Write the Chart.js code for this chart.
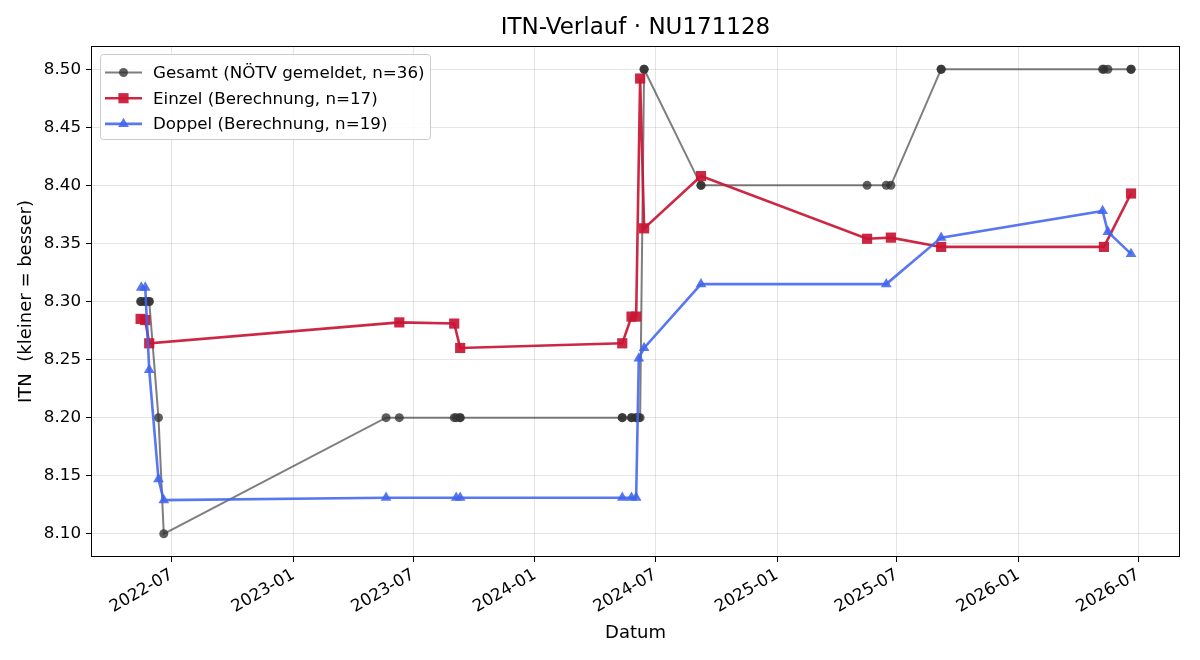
<!DOCTYPE html>
<html>
<head>
<meta charset="utf-8">
<script src="https://cdn.jsdelivr.net/npm/chart.js"></script>
<style>
  html, body { margin: 0; padding: 0; background: #fff; }
  canvas { display: block; }
</style>
</head>
<body>
<canvas id="c" width="1200" height="660"></canvas>
<script>
// ---- data ----
const gesamtDates = [
  '2022-05-15','2022-05-16','2022-05-22','2022-05-22','2022-05-28','2022-05-28',
  '2022-06-11','2022-06-19','2023-05-21','2023-06-10','2023-09-01','2023-09-04',
  '2023-09-10','2023-09-10','2024-05-12','2024-05-12','2024-05-26','2024-05-26',
  '2024-06-02','2024-06-02','2024-06-06','2024-06-08','2024-06-14','2024-06-14',
  '2024-09-08','2024-09-08','2025-05-17','2025-06-15','2025-06-22','2025-09-06',
  '2025-09-06','2026-05-08','2026-05-10','2026-05-16','2026-06-20','2026-06-20'
];
const gesamtValues = [
  8.30, 8.30, 8.30, 8.30, 8.30, 8.30,
  8.20, 8.10, 8.20, 8.20, 8.20, 8.20,
  8.20, 8.20, 8.20, 8.20, 8.20, 8.20,
  8.20, 8.20, 8.20, 8.20, 8.50, 8.50,
  8.40, 8.40, 8.40, 8.40, 8.40, 8.50,
  8.50, 8.50, 8.50, 8.50, 8.50, 8.50
];

const einzelDates = [
  '2022-05-15','2022-05-22','2022-05-28','2023-06-10','2023-09-01','2023-09-10',
  '2024-05-12','2024-05-26','2024-06-02','2024-06-08','2024-06-14','2024-09-08',
  '2025-05-17','2025-06-22','2025-09-06','2026-05-10','2026-06-20'
];
const einzelValues = [
  8.285, 8.284, 8.264, 8.282, 8.281, 8.260,
  8.264, 8.287, 8.287, 8.492, 8.363, 8.408,
  8.354, 8.355, 8.347, 8.347, 8.393
];

const doppelDates = [
  '2022-05-16','2022-05-22','2022-05-28','2022-06-11','2022-06-19','2023-05-21',
  '2023-09-04','2023-09-10','2024-05-12','2024-05-26','2024-06-02','2024-06-06',
  '2024-06-14','2024-09-08','2025-06-15','2025-09-06','2026-05-08','2026-05-16',
  '2026-06-20'
];
const doppelValues = [
  8.312, 8.312, 8.241, 8.147, 8.129, 8.131,
  8.131, 8.131, 8.131, 8.131, 8.131, 8.251,
  8.260, 8.315, 8.315, 8.355, 8.378, 8.360,
  8.341
];

const xTickLabels = ['2022-07','2023-01','2023-07','2024-01','2024-07','2025-01','2025-07','2026-01','2026-07'];
const yTickValues = [8.10, 8.15, 8.20, 8.25, 8.30, 8.35, 8.40, 8.45, 8.50];

const seriesLabels = [
  'Gesamt (NÖTV gemeldet, n=36)',
  'Einzel (Berechnung, n=17)',
  'Doppel (Berechnung, n=19)'
];

// ---- helpers ----
const toMs = s => Date.parse(s + 'T00:00:00Z');
const pad2 = n => (n < 10 ? '0' : '') + n;
const fmtMonth = v => { const d = new Date(v); return d.getUTCFullYear() + '-' + pad2(d.getUTCMonth() + 1); };
const pts = (dates, vals) => dates.map((d, i) => ({ x: toMs(d), y: vals[i] }));

const FONT = 'DejaVu Sans';
const TICK_SIZE = 16.7;
const LABEL_SIZE = 18;
const LEGEND_SIZE = 16.7;
const TITLE_SIZE = 23;
const GREY_LINE = 'rgba(40,40,40,0.6)';
const GREY_PT = 'rgba(50,50,50,0.78)';
const RED = 'rgba(200,22,52,0.92)';
const BLUE = 'rgba(65,100,238,0.88)';

function drawMarker(ctx, style, x, y, r, fill) {
  ctx.save();
  ctx.fillStyle = fill;
  ctx.beginPath();
  if (style === 'circle') {
    ctx.arc(x, y, r, 0, Math.PI * 2);
  } else if (style === 'rect') {
    const s = r * Math.SQRT2 / 2;
    ctx.rect(x - s, y - s, 2 * s, 2 * s);
  } else if (style === 'triangle') {
    for (let k = 0; k < 3; k++) {
      const a = k * 2 * Math.PI / 3;
      const px = x + Math.sin(a) * r, py = y - Math.cos(a) * r;
      if (k === 0) ctx.moveTo(px, py); else ctx.lineTo(px, py);
    }
    ctx.closePath();
  }
  ctx.fill();
  ctx.restore();
}

const framePlugin = {
  id: 'frame',
  afterDatasetsDraw(chart) {
    const { ctx, chartArea: a } = chart;
    ctx.save();
    ctx.strokeStyle = '#000';
    ctx.lineWidth = 1;
    ctx.strokeRect(Math.round(a.left) + 0.5, Math.round(a.top) + 0.5,
                   Math.round(a.right - a.left) - 1, Math.round(a.bottom - a.top) - 1);
    ctx.restore();
  }
};

const legendPlugin = {
  id: 'innerLegend',
  afterDraw(chart) {
    const { ctx, chartArea: a } = chart;
    const bx = a.left + 9, by = a.top + 8, bw = 330, bh = 85;
    ctx.save();
    ctx.fillStyle = 'rgba(255,255,255,0.85)';
    ctx.strokeStyle = '#cccccc';
    ctx.lineWidth = 1;
    ctx.beginPath();
    if (ctx.roundRect) ctx.roundRect(bx + 0.5, by + 0.5, bw, bh, 3); else ctx.rect(bx + 0.5, by + 0.5, bw, bh);
    ctx.fill();
    ctx.stroke();
    ctx.font = LEGEND_SIZE + 'px "' + FONT + '"';
    ctx.textBaseline = 'middle';
    ctx.textAlign = 'left';
    chart.data.datasets.forEach((ds, i) => {
      const cy = by + 18.5 + i * 25.7;
      ctx.strokeStyle = ds.borderColor;
      ctx.lineWidth = ds.borderWidth;
      ctx.beginPath();
      ctx.moveTo(bx + 5, cy);
      ctx.lineTo(bx + 42, cy);
      ctx.stroke();
      drawMarker(ctx, ds.pointStyle, bx + 23.5, cy, ds.pointRadius, ds.pointBackgroundColor);
      ctx.fillStyle = '#000';
      ctx.fillText(ds.label, bx + 53, cy + 1);
    });
    ctx.restore();
  }
};

new Chart(document.getElementById('c'), {
  type: 'line',
  data: {
    datasets: [
      {
        label: seriesLabels[0],
        data: pts(gesamtDates, gesamtValues),
        borderColor: GREY_LINE, borderWidth: 2,
        pointStyle: 'circle', pointRadius: 4.5,
        pointBackgroundColor: GREY_PT, pointBorderColor: GREY_PT, pointBorderWidth: 0,
        tension: 0, order: 3
      },
      {
        label: seriesLabels[1],
        data: pts(einzelDates, einzelValues),
        borderColor: RED, borderWidth: 2.6,
        pointStyle: 'rect', pointRadius: 7.2,
        pointBackgroundColor: RED, pointBorderColor: RED, pointBorderWidth: 0,
        tension: 0, order: 2
      },
      {
        label: seriesLabels[2],
        data: pts(doppelDates, doppelValues),
        borderColor: BLUE, borderWidth: 2.6,
        pointStyle: 'triangle', pointRadius: 6.2,
        pointBackgroundColor: BLUE, pointBorderColor: BLUE, pointBorderWidth: 0,
        tension: 0, order: 1
      }
    ]
  },
  options: {
    responsive: false,
    animation: false,
    layout: { padding: { left: 0, right: 20, top: 0, bottom: 0 } },
    scales: {
      x: {
        type: 'linear',
        min: toMs('2022-03-01'),
        max: toMs('2026-09-02'),
        afterBuildTicks: s => { s.ticks = xTickLabels.map(l => ({ value: toMs(l + '-01') })); },
        afterFit: s => { s.height = 103; },
        ticks: {
          callback: v => fmtMonth(v),
          autoSkip: false, minRotation: 30, maxRotation: 30,
          color: '#000', font: { family: FONT, size: TICK_SIZE }, padding: 3
        },
        grid: { color: 'rgba(0,0,0,0.1)', tickColor: '#000', tickLength: 5, lineWidth: 1 },
        border: { display: false },
        title: { display: true, text: 'Datum', color: '#000',
                 font: { family: FONT, size: LABEL_SIZE }, padding: { top: 0, bottom: 16.2 } }
      },
      y: {
        type: 'linear',
        min: 8.08, max: 8.52,
        afterBuildTicks: s => { s.ticks = yTickValues.map(v => ({ value: v })); },
        afterFit: s => { s.width = 91; },
        ticks: {
          callback: v => Number(v).toFixed(2),
          color: '#000', font: { family: FONT, size: TICK_SIZE }, padding: 5
        },
        grid: { color: 'rgba(0,0,0,0.1)', tickColor: '#000', tickLength: 5, lineWidth: 1 },
        border: { display: false },
        title: { display: true, text: 'ITN  (kleiner = besser)', color: '#000',
                 font: { family: FONT, size: LABEL_SIZE }, padding: { top: 15.2, bottom: 0 } }
      }
    },
    plugins: {
      legend: { display: false },
      tooltip: { enabled: false },
      title: {
        display: true, text: 'ITN-Verlauf · NU171128', fullSize: false,
        color: '#000', font: { family: FONT, size: TITLE_SIZE, weight: 'normal' },
        padding: { top: 14.2, bottom: 4.2 }
      }
    }
  },
  plugins: [framePlugin, legendPlugin]
});
</script>
</body>
</html>
